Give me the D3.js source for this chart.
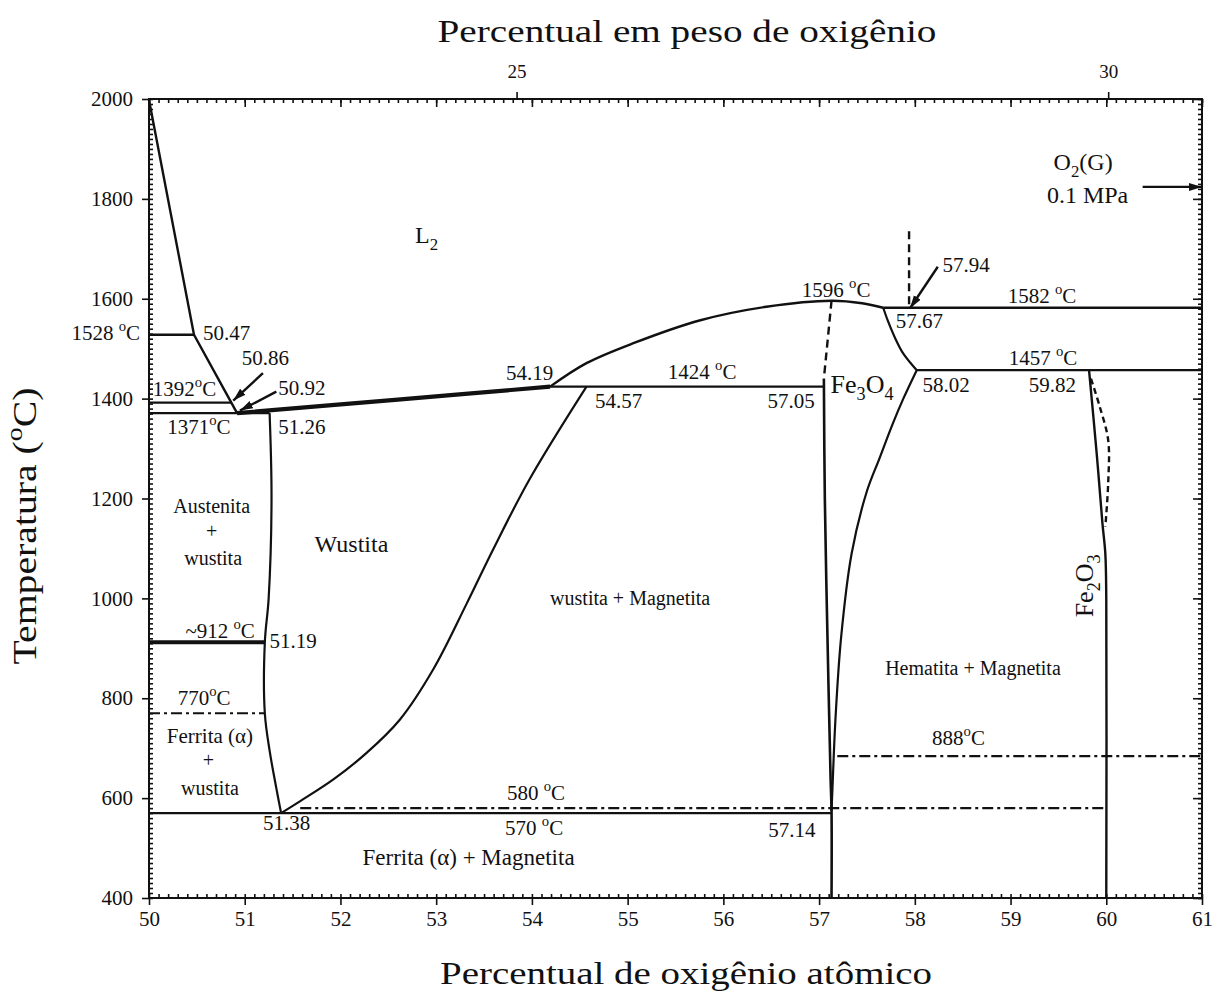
<!DOCTYPE html>
<html>
<head>
<meta charset="utf-8">
<script src="https://cdn.jsdelivr.net/npm/d3@7"></script>
<style>
  body { margin: 0; background: #fff; }
  svg { display: block; font-family: "Liberation Serif", "DejaVu Serif", serif; }
  .tick text { font-family: "Liberation Serif", serif; fill: #111; }
  .tick line { stroke: #111; }
</style>
</head>
<body>
<div id="canvas"></div>
<script>
// Fe-O phase diagram, x = atomic % O, y = temperature (C)

// boundary curves [at% O, T]
const liquidusFe = [[50.0, 1998], [50.47, 1528], [50.86, 1392], [50.92, 1371]];
const wustiteLiquidus = [[50.92, 1371], [52.6, 1398], [54.19, 1424]];
const liquidusDome = [[54.19, 1424], [54.57, 1471], [55.06, 1511], [55.76, 1557], [56.45, 1584], [57.13, 1596], [57.45, 1591], [57.67, 1582]];
const wustiteLeft = [[51.26, 1371], [51.28, 1200], [51.25, 1000], [51.21, 912], [51.21, 770], [51.26, 695], [51.33, 620], [51.38, 570]];
const wustiteRight = [[54.57, 1424], [53.98, 1240], [53.6, 1100], [53.32, 990], [52.97, 858], [52.62, 757], [52.27, 690], [51.93, 638], [51.58, 594], [51.38, 570]];
const magnetiteLeft = [[57.05, 1440], [57.06, 1200], [57.09, 900], [57.12, 640], [57.13, 574], [57.13, 400]];
const magnetiteRight = [[58.02, 1457], [57.88, 1400], [57.77, 1350], [57.63, 1280], [57.5, 1215], [57.34, 1090], [57.23, 922], [57.17, 755], [57.14, 621], [57.13, 574]];
const magnetiteRightTop = [[57.67, 1582], [57.72, 1555], [57.79, 1523], [57.88, 1490], [58.02, 1457]];
const hematiteLeft = [[59.82, 1457], [59.9, 1290], [59.96, 1150], [59.99, 1090], [60.0, 1000], [60.0, 400]];
const hematiteDashed = [[59.84, 1440], [59.93, 1385], [60.02, 1317], [60.02, 1231], [59.99, 1143]];
const magnetiteDashed = [[57.13, 1596], [57.05, 1440]];
const liquidDashed = [[57.94, 1735], [57.94, 1582]];

// isotherms [T, from at%, to at%]
const isothermsSolid = [[1528, 50, 50.47], [1392, 50, 50.86], [1371, 50, 51.26], [1424, 54.19, 57.05], [1582, 57.67, 61], [1457, 58.02, 61], [570, 50, 57.13]];
const isothermsThick = [[912, 50, 51.21]];
const isothermsDashDot = [[770, 50, 51.21], [580, 51.58, 60], [684, 57.19, 61]];

// arrows [[from], [to]]
const arrows = [
  [[51.19, 1451], [50.88, 1396]],
  [[51.33, 1414], [50.95, 1376]],
  [[58.24, 1664], [57.95, 1581]],
  [[60.38, 1824], [61.0, 1824]]
];

// axis ticks
const tempTicks = d3.range(400, 2001, 200);
const atTicks = d3.range(50, 62, 1);
const wtLabels = ["25", "30"];
const wtAtPos = [53.84, 60.02];

// text annotations [text, at%, T, anchor, size]
const annotations = [
  ["1528 {^o}C", 49.906, 1517, "end", 21],
  ["50.47", 50.564, 1517, "start", 21],
  ["50.86", 50.97, 1467, "start", 21],
  ["1392{^o}C", 50.04, 1405, "start", 21],
  ["50.92", 51.35, 1407, "start", 21],
  ["1371{^o}C", 50.19, 1329, "start", 21],
  ["51.26", 51.35, 1329, "start", 21],
  ["L{_2}", 52.78, 1712, "start", 24],
  ["54.19", 53.73, 1437, "start", 21],
  ["54.57", 54.66, 1381, "start", 21],
  ["1424 {^o}C", 55.42, 1439, "start", 21],
  ["57.05", 56.46, 1381, "start", 21],
  ["Fe{_3}O{_4}", 57.12, 1411, "start", 26],
  ["1596 {^o}C", 56.82, 1604, "start", 21],
  ["57.94", 58.29, 1654, "start", 21],
  ["1582 {^o}C", 58.97, 1592, "start", 21],
  ["57.67", 57.80, 1541, "start", 21],
  ["1457 {^o}C", 58.98, 1467, "start", 21],
  ["58.02", 58.08, 1413, "start", 21],
  ["59.82", 59.19, 1413, "start", 21],
  ["O{_2}(G)", 59.45, 1858, "start", 24],
  ["0.1 MPa", 59.38, 1792, "start", 24],
  ["Austenita", 50.655, 1171, "middle", 20],
  ["+", 50.655, 1121, "middle", 20],
  ["wustita", 50.67, 1067, "middle", 20],
  ["Wustita", 51.73, 1093, "start", 24],
  ["~912 {^o}C", 50.38, 921, "start", 21],
  ["51.19", 51.26, 901, "start", 21],
  ["770{^o}C", 50.30, 787, "start", 21],
  ["Ferrita (α)", 50.637, 710, "middle", 21],
  ["+", 50.62, 662, "middle", 20],
  ["wustita", 50.637, 606, "middle", 20],
  ["580 {^o}C", 53.74, 596, "start", 21],
  ["570 {^o}C", 53.72, 526, "start", 21],
  ["51.38", 51.19, 536, "start", 21],
  ["57.14", 56.47, 522, "start", 21],
  ["Ferrita (α) + Magnetita", 52.23, 466, "start", 23],
  ["wustita + Magnetita", 54.19, 987, "start", 20],
  ["Hematita + Magnetita", 57.69, 847, "start", 20],
  ["888{^o}C", 58.18, 706, "start", 21]
];

const width = 1220;
const height = 992;
const margin = { top: 99, left: 149, bottom: 94, right: 18 };
const iwidth = width - margin.left - margin.right;
const iheight = height - margin.top - margin.bottom;
const serif = "'Liberation Serif', 'Times New Roman', serif";

const svg = d3.select("#canvas").append("svg")
  .attr("width", width)
  .attr("height", height)
  .attr("font-family", serif);

svg.append("rect").attr("width", width).attr("height", height).attr("fill", "#fff");

const defs = svg.append("defs");
defs.append("marker")
  .attr("id", "arr")
  .attr("markerUnits", "userSpaceOnUse")
  .attr("markerWidth", 14).attr("markerHeight", 10)
  .attr("refX", 13).attr("refY", 5)
  .attr("orient", "auto")
  .append("path")
  .attr("d", "M0,1 L13,5 L0,9 Z")
  .attr("fill", "#111");

const g = svg.append("g").attr("transform", `translate(${margin.left},${margin.top})`);

const x = d3.scaleLinear().domain([50, 61]).range([0, iwidth]);
const y = d3.scaleLinear().domain([400, 2000]).range([iheight, 0]);

// ---- axes ----
function clean(sel) {
  sel.select(".domain").remove();
  sel.attr("font-family", serif);
  return sel;
}

// bottom
g.append("g").attr("transform", `translate(0,${iheight})`)
  .call(d3.axisBottom(x).tickValues(d3.range(500, 611, 1).map(d => d / 10)).tickSize(-4).tickFormat(""))
  .call(clean);
g.append("g").attr("transform", `translate(0,${iheight})`)
  .call(d3.axisBottom(x).tickValues(atTicks).tickSize(7).tickPadding(6).tickFormat(d3.format("d")))
  .call(clean)
  .selectAll("text").style("font-size", "21px");

// top
g.append("g")
  .call(d3.axisTop(x).tickValues(d3.range(500, 611, 1).map(d => d / 10)).tickSize(-4).tickFormat(""))
  .call(clean);
g.append("g")
  .call(d3.axisTop(x).tickValues(atTicks).tickSize(-8).tickFormat(""))
  .call(clean);
g.append("g")
  .call(d3.axisTop(x).tickValues(wtAtPos).tickSize(7).tickPadding(14).tickFormat((d, i) => wtLabels[i]))
  .call(clean)
  .selectAll("text").style("font-size", "19px");

// left
g.append("g")
  .call(d3.axisLeft(y).tickValues(d3.range(400, 2001, 10)).tickSize(-4).tickFormat(""))
  .call(clean);
g.append("g")
  .call(d3.axisLeft(y).tickValues(tempTicks).tickSize(7).tickPadding(9).tickFormat(d3.format("d")))
  .call(clean)
  .selectAll("text").style("font-size", "21px");

// right
g.append("g").attr("transform", `translate(${iwidth},0)`)
  .call(d3.axisRight(y).tickValues(d3.range(400, 2001, 10)).tickSize(-4).tickFormat(""))
  .call(clean);
g.append("g").attr("transform", `translate(${iwidth},0)`)
  .call(d3.axisRight(y).tickValues(tempTicks).tickSize(-9).tickFormat(""))
  .call(clean);

g.selectAll(".tick line").attr("stroke-width", 1.6);

// frame
g.append("rect")
  .attr("width", iwidth).attr("height", iheight)
  .attr("fill", "none").attr("stroke", "#111").attr("stroke-width", 2);

// ---- boundaries ----
const lineLin = d3.line().x(d => x(d[0])).y(d => y(d[1]));
const lineSmooth = d3.line().x(d => x(d[0])).y(d => y(d[1])).curve(d3.curveCatmullRom.alpha(0.5));

function draw(data, gen, w, dash) {
  g.append("path")
    .datum(data)
    .attr("d", gen)
    .attr("fill", "none")
    .attr("stroke", "#111")
    .attr("stroke-width", w)
    .attr("stroke-linejoin", "round")
    .attr("stroke-dasharray", dash || null);
}

draw(liquidusFe, lineLin, 2.4);
draw(wustiteLiquidus, lineSmooth, 4.2);
draw(liquidusDome, lineSmooth, 2.4);
draw(wustiteLeft, lineSmooth, 2.2);
draw(wustiteRight, lineSmooth, 2.2);
draw(magnetiteLeft, lineSmooth, 2.6);
draw(magnetiteRight, lineSmooth, 2.2);
draw(magnetiteRightTop, lineSmooth, 2.2);
draw(hematiteLeft, lineSmooth, 2.4);
draw(hematiteDashed, lineSmooth, 2.4, "6,4");
draw(magnetiteDashed, lineLin, 2.4, "8,5");
draw(liquidDashed, lineLin, 2.4, "8,5");

g.selectAll(".iso-solid").data(isothermsSolid).enter().append("line")
  .attr("class", "iso-solid")
  .attr("x1", d => x(d[1])).attr("x2", d => x(d[2]))
  .attr("y1", d => y(d[0])).attr("y2", d => y(d[0]))
  .attr("stroke", "#111").attr("stroke-width", 2.4);

g.selectAll(".iso-thick").data(isothermsThick).enter().append("line")
  .attr("class", "iso-thick")
  .attr("x1", d => x(d[1])).attr("x2", d => x(d[2]))
  .attr("y1", d => y(d[0])).attr("y2", d => y(d[0]))
  .attr("stroke", "#111").attr("stroke-width", 4);

g.selectAll(".iso-dd").data(isothermsDashDot).enter().append("line")
  .attr("class", "iso-dd")
  .attr("x1", d => x(d[1])).attr("x2", d => x(d[2]))
  .attr("y1", d => y(d[0])).attr("y2", d => y(d[0]))
  .attr("stroke", "#111").attr("stroke-width", 2.2)
  .attr("stroke-dasharray", "11,4,3,4");

g.selectAll(".arrow").data(arrows).enter().append("line")
  .attr("class", "arrow")
  .attr("x1", d => x(d[0][0])).attr("y1", d => y(d[0][1]))
  .attr("x2", d => x(d[1][0])).attr("y2", d => y(d[1][1]))
  .attr("stroke", "#111").attr("stroke-width", 2.4)
  .attr("marker-end", "url(#arr)");

// ---- text ----
function rich(sel, str, size) {
  const re = /\{([\^_])([^}]*)\}/g;
  const parts = [];
  let last = 0, m;
  while ((m = re.exec(str))) {
    if (m.index > last) parts.push([str.slice(last, m.index), ""]);
    parts.push([m[2], m[1]]);
    last = re.lastIndex;
  }
  if (last < str.length) parts.push([str.slice(last), ""]);
  let shift = 0;
  parts.forEach(([txt, kind]) => {
    const target = kind === "^" ? -0.42 * size : kind === "_" ? 0.28 * size : 0;
    sel.append("tspan")
      .attr("dy", target - shift)
      .style("font-size", kind ? (0.7 * size) + "px" : null)
      .text(txt);
    shift = target;
  });
}

annotations.forEach(a => {
  const t = g.append("text")
    .attr("x", x(a[1])).attr("y", y(a[2]))
    .attr("text-anchor", a[3])
    .style("font-size", a[4] + "px")
    .attr("fill", "#111");
  rich(t, a[0], a[4]);
});

// Fe2O3, written upward along the hematite line
const fe2o3 = g.append("text")
  .attr("transform", `translate(${x(59.86)},${y(962)}) rotate(-90)`)
  .style("font-size", "26px")
  .attr("fill", "#111");
rich(fe2o3, "Fe{_2}O{_3}", 26);

// axis titles
svg.append("text")
  .attr("x", 687).attr("y", 42)
  .attr("text-anchor", "middle")
  .attr("textLength", 499).attr("lengthAdjust", "spacingAndGlyphs")
  .style("font-size", "31px").attr("fill", "#111")
  .text("Percentual em peso de oxigênio");

svg.append("text")
  .attr("x", 686).attr("y", 984)
  .attr("text-anchor", "middle")
  .attr("textLength", 492).attr("lengthAdjust", "spacingAndGlyphs")
  .style("font-size", "31px").attr("fill", "#111")
  .text("Percentual de oxigênio atômico");

const ytitle = svg.append("text")
  .attr("transform", "translate(36,526) rotate(-90)")
  .attr("text-anchor", "middle")
  .attr("textLength", 277).attr("lengthAdjust", "spacingAndGlyphs")
  .style("font-size", "33px").attr("fill", "#111");
rich(ytitle, "Temperatura ({^o}C)", 33);
</script>
</body>
</html>
